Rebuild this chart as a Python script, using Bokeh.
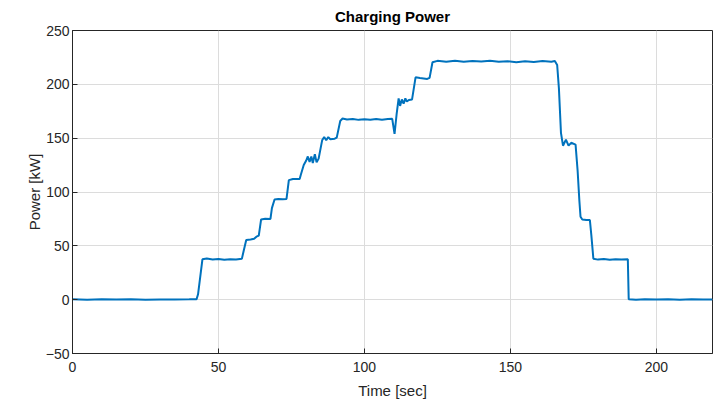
from bokeh.plotting import figure
from bokeh.models import Range1d, FixedTicker
from bokeh.embed import file_html
from bokeh.resources import INLINE

time_s = [0, 5, 10, 15, 20, 25, 30, 35, 40, 42.5, 43.0, 44.5, 46, 48, 50, 52, 54, 56, 58,
          58.6, 59.5, 61, 62.2, 63.0, 63.8, 64.6, 66, 67.8, 68.3, 69.2, 70.5, 72, 73.3,
          74.1, 75.5, 77.8, 78.2, 79.2, 80, 80.6, 81.2, 81.8, 82.3, 83.0, 83.6, 84.3,
          85.5, 86.2, 86.9, 87.6, 88.3, 89.8, 90.5, 91.7, 92.5, 94, 96, 98, 100, 102, 104,
          106, 108, 109.5, 110.3, 111.0, 111.7, 112.2, 112.8, 113.4, 114.0, 114.5, 115.2,
          116.3, 117.5, 119, 121.5, 122.3, 123.3, 125, 128, 131, 134, 137, 140, 143, 146,
          149, 152, 155, 158, 161, 164, 165.2, 166.0, 166.6, 167.3, 168.0, 169.0, 169.9,
          170.8, 172.3, 173.0, 173.6, 174.0, 174.6, 176, 177.2, 177.7, 178.4, 180, 182,
          184, 186, 188, 190.2, 190.5, 193, 196, 200, 204, 208, 212, 216, 219.2]
power_kw = [0.3, 0.0, 0.4, 0.1, 0.3, 0.0, 0.2, 0.1, 0.3, 0.5, 5.0, 37.5, 38.2, 37.3, 37.8,
            37.0, 37.6, 37.2, 37.9,
            45.0, 55.5, 55.8, 56.5, 58.5, 59.5, 74.5, 75.2, 75.0, 85.0, 93.0, 93.5, 93.2, 93.6,
            111.0, 112.0, 112.0, 116.0, 125.0, 129.0, 133.0, 128.0, 133.0, 127.0, 135.0,
            127.5, 131.0,
            148.0, 151.0, 148.0, 151.0, 149.0, 149.5, 150.5, 166.0, 168.2, 167.4, 167.9,
            167.0, 167.6, 167.2, 167.7,
            167.1, 167.8, 168.0, 154.0, 172.0, 187.0, 180.0, 186.0, 182.0, 187.0, 184.0, 185.5,
            186.0, 206.5, 205.8, 205.0, 206.0, 220.5, 221.8, 221.0, 221.8, 220.9, 221.6,
            221.2, 221.9, 221.0,
            221.5, 220.6, 221.4, 220.8, 221.6, 221.0, 221.7, 218.0, 196.0, 155.0, 143.0,
            148.7, 143.0,
            145.7, 144.0, 120.0, 92.0, 77.0, 74.5, 74.0, 74.0, 60.0, 38.0, 37.2, 37.8,
            37.0, 37.6, 37.2, 37.6, 0.3, 0.0, 0.4, 0.1, 0.3, 0.0, 0.3, 0.1, 0.2]

x_ticks = [0, 50, 100, 150, 200]
y_ticks = [-50, 0, 50, 100, 150, 200, 250]

AX = "#262626"
FONT = "Liberation Sans"

p = figure(width=714, height=401, output_backend="svg", toolbar_location=None,
           x_range=Range1d(0, 219.2), y_range=Range1d(-50, 250),
           min_border_left=72, min_border_right=2, min_border_bottom=45, min_border_top=30)
p.title.text = "Charging Power"
p.title.align = "center"
p.title.text_font = FONT
p.title.text_font_size = "15px"
p.title.text_font_style = "bold"
p.title.text_color = "#000000"
p.title.text_line_height = 0.8
p.title.standoff = 11

p.line(time_s, power_kw, line_color="#0072BD", line_width=2.0)

p.outline_line_color = AX
p.outline_line_width = 1
p.outline_line_alpha = 1

for ax in (p.xaxis[0], p.yaxis[0]):
    ax.major_tick_in = 5
    ax.major_tick_out = 0
    ax.minor_tick_in = 0
    ax.minor_tick_out = 0
    ax.axis_line_color = AX
    ax.major_tick_line_color = AX
    ax.major_label_text_color = AX
    ax.major_label_text_font = FONT
    ax.major_label_text_font_size = "14px"
    ax.axis_label_text_font = FONT
    ax.axis_label_text_font_size = "15px"
    ax.axis_label_text_font_style = "normal"
    ax.axis_label_text_color = AX

p.xaxis.ticker = FixedTicker(ticks=x_ticks)
p.yaxis.ticker = FixedTicker(ticks=y_ticks)
p.xaxis.axis_label = "Time [sec]"
p.yaxis.axis_label = "Power [kW]"
p.xaxis.major_label_standoff = 8
p.yaxis.major_label_standoff = 3
p.xaxis.axis_label_standoff = 7
p.yaxis.axis_label_standoff = 0

p.xgrid.ticker = FixedTicker(ticks=x_ticks)
p.ygrid.ticker = FixedTicker(ticks=y_ticks)
p.grid.grid_line_color = "#dcdcdc"
p.grid.grid_line_width = 1

p.background_fill_color = "white"
p.border_fill_color = "white"

open("out.html", "w").write(file_html(p, INLINE))
